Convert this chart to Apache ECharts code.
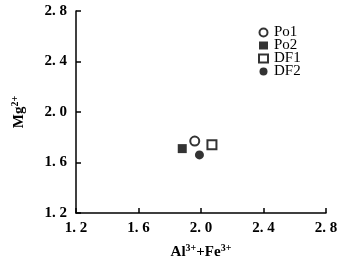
<!DOCTYPE html>
<html><head><meta charset="utf-8">
<script src="https://cdn.jsdelivr.net/npm/echarts@6/dist/echarts.min.js"></script>
<style>html,body{margin:0;padding:0;background:#fff}#c{width:347px;height:265px}</style>
</head><body><div id="c"></div>
<script>
const seriesNames = ['Po1', 'Po2', 'DF1', 'DF2'];
const xValues = [1.96, 1.88, 2.07, 1.99];
const yValues = [1.77, 1.71, 1.74, 1.66];
const xTicks = [1.2, 1.6, 2.0, 2.4, 2.8];
const yTicks = [1.2, 1.6, 2.0, 2.4, 2.8];

const styles = [
  {symbol: 'circle', itemStyle: {color: '#fff', borderColor: '#000', borderWidth: 2}},
  {symbol: 'rect', itemStyle: {color: '#000', borderColor: '#000', borderWidth: 0}},
  {symbol: 'rect', itemStyle: {color: '#fff', borderColor: '#000', borderWidth: 2}},
  {symbol: 'circle', itemStyle: {color: '#000', borderColor: '#000', borderWidth: 0}}
];
const font = '"Liberation Serif", "DejaVu Serif", serif';
const fmt = v => v.toFixed(1).replace('.', '. ');
const chart = echarts.init(document.getElementById('c'), null, {renderer: 'canvas'});
chart.setOption({
  animation: false,
  backgroundColor: '#fff',
  grid: {left: 76, right: 21, top: 11, bottom: 52, containLabel: false, outerBoundsMode: 'none'},
  legend: {
    orient: 'vertical', left: 253, top: 20, itemGap: -2,
    itemWidth: 9, itemHeight: 8,
    textStyle: {fontFamily: font, fontSize: 15, color: '#000', padding: [0,0,0,1]},
    data: seriesNames
  },
  xAxis: {
    type: 'value', min: xTicks[0], max: xTicks[xTicks.length-1], interval: 0.4,
    axisLine: {lineStyle: {color: '#000', width: 1.5}},
    axisTick: {inside: true, length: 5, lineStyle: {color: '#000', width: 1.5}},
    splitLine: {show: false},
    axisLabel: {fontFamily: font, fontSize: 15, fontWeight: 'bold', color: '#000', margin: 8, formatter: fmt},
    name: '{b|Al}{s|3+}{b|+Fe}{s|3+}', nameLocation: 'middle', nameGap: 30,
    nameTextStyle: {rich: {
      b: {fontFamily: font, fontSize: 15, fontWeight: 'bold', color: '#000'},
      s: {fontFamily: font, fontSize: 10, fontWeight: 'bold', color: '#000', verticalAlign: 'top', padding: [0,0,8,0]}
    }}
  },
  yAxis: {
    type: 'value', min: yTicks[0], max: yTicks[yTicks.length-1], interval: 0.4,
    axisLine: {lineStyle: {color: '#000', width: 1.5}},
    axisTick: {inside: true, length: 5, lineStyle: {color: '#000', width: 1.5}},
    splitLine: {show: false},
    axisLabel: {fontFamily: font, fontSize: 15, fontWeight: 'bold', color: '#000', margin: 9, formatter: fmt},
    name: '{b|Mg}{s|2+}', nameLocation: 'middle', nameGap: 48, nameRotate: 90,
    nameTextStyle: {rich: {
      b: {fontFamily: font, fontSize: 15, fontWeight: 'bold', color: '#000'},
      s: {fontFamily: font, fontSize: 10, fontWeight: 'bold', color: '#000', verticalAlign: 'top', padding: [0,0,8,0]}
    }}
  },
  series: seriesNames.map((n, i) => ({
    name: n, type: 'scatter', symbol: styles[i].symbol, symbolSize: 9,
    itemStyle: styles[i].itemStyle,
    data: [[xValues[i], yValues[i]]]
  }))
});
</script></body></html>
